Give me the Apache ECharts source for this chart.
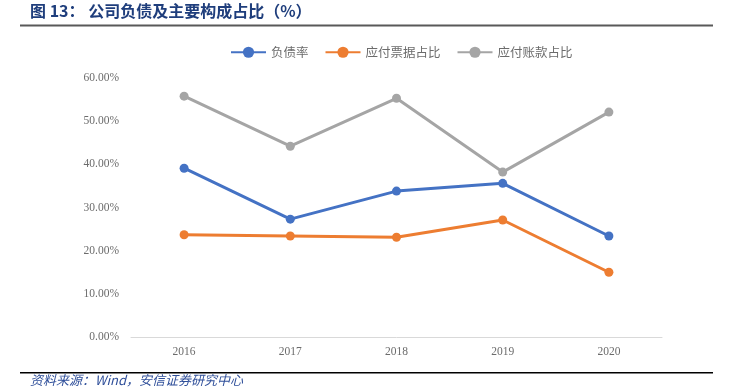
<!DOCTYPE html>
<html>
<head>
<meta charset="utf-8">
<script src="https://cdn.jsdelivr.net/npm/echarts@6/dist/echarts.min.js"></script>
<style>
  html, body { margin: 0; padding: 0; background: #fff; }
  #main { width: 736px; height: 390px; }
</style>
</head>
<body>
<div id="main"></div>
<script>
// 年份
const years = ['2016', '2017', '2018', '2019', '2020'];
// 各项占比（%）
const debtRatio = [39.1, 27.3, 33.8, 35.6, 23.4];
const notesPayable = [23.7, 23.4, 23.1, 27.1, 15.0];
const accountsPayable = [55.8, 44.2, 55.3, 38.2, 52.1];

const seriesNames = ['负债率', '应付票据占比', '应付账款占比'];
const colors = ['#4472c4', '#ed7d31', '#a5a5a5'];

const chart = echarts.init(document.getElementById('main'));

function lineSeries(name, data, color) {
  return {
    name: name,
    type: 'line',
    data: data,
    symbol: 'circle',
    symbolSize: 9,
    lineStyle: { width: 3, color: color },
    itemStyle: { color: color },
    emphasis: { disabled: true }
  };
}

const option = {
  animation: false,
  textStyle: { fontFamily: 'Liberation Serif, serif' },
  grid: { left: 131, right: 74, top: 78, bottom: 53 },
  legend: {
    left: 225,
    top: 41,
    itemWidth: 35,
    itemHeight: 14,
    itemGap: 16,
    data: seriesNames,
    textStyle: {
      color: '#6b6b6b',
      fontSize: 12.5,
      fontFamily: 'Noto Sans CJK SC'
    }
  },
  xAxis: {
    type: 'category',
    data: years,
    axisLine: { lineStyle: { color: '#d9d9d9', width: 1 } },
    axisTick: { show: false },
    axisLabel: { color: '#6b6b6b', fontSize: 11.5, margin: 9 }
  },
  yAxis: {
    type: 'value',
    min: 0,
    max: 60,
    interval: 10,
    splitLine: { show: false },
    axisLine: { show: false },
    axisTick: { show: false },
    axisLabel: {
      color: '#6b6b6b',
      fontSize: 11.5,
      margin: 12,
      formatter: v => v.toFixed(2) + '%'
    }
  },
  series: [
    lineSeries(seriesNames[0], debtRatio, colors[0]),
    lineSeries(seriesNames[1], notesPayable, colors[1]),
    lineSeries(seriesNames[2], accountsPayable, colors[2])
  ],
  graphic: [
    {
      type: 'text',
      left: 30,
      top: 3,
      style: {
        text: '图 13： 公司负债及主要构成占比（%）',
        fill: '#1f3e7c',
        font: 'bold 16px "Noto Sans CJK SC"'
      }
    },
    {
      type: 'rect',
      shape: { x: 20, y: 24.5, width: 693, height: 2 },
      style: { fill: '#595959' }
    },
    {
      type: 'rect',
      shape: { x: 20, y: 372, width: 693, height: 1.5 },
      style: { fill: '#000' }
    },
    {
      type: 'text',
      left: 30,
      top: 374,
      style: {
        text: '资料来源：Wind，安信证券研究中心',
        fill: '#2f4f9a',
        font: 'italic 13px "Noto Sans CJK SC"'
      }
    }
  ]
};

chart.setOption(option);
</script>
</body>
</html>
